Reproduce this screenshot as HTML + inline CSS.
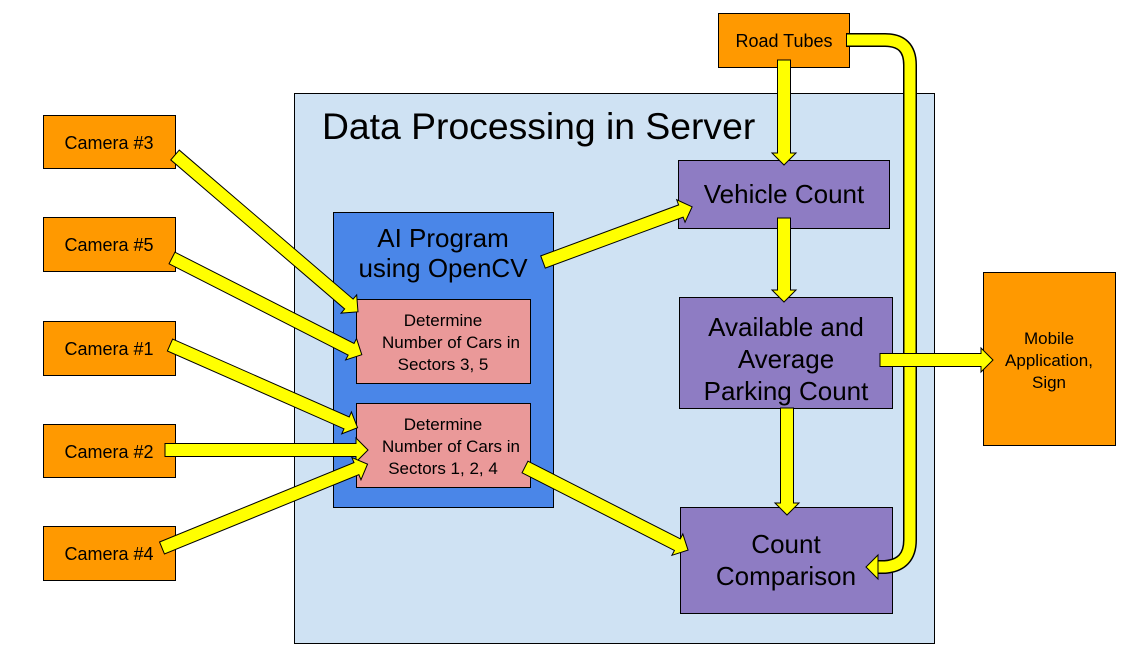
<!DOCTYPE html>
<html><head><style>body{margin:0;background:#fff}svg{display:block}text{font-family:"Liberation Sans",sans-serif;fill:#000}</style></head><body>
<svg width="1145" height="654" viewBox="0 0 1145 654" xmlns="http://www.w3.org/2000/svg">
<rect x="294.5" y="93.5" width="640" height="550" fill="#cfe2f3" stroke="#000"/>
<text x="322" y="139" font-size="37.3">Data Processing in Server</text>
<g fill="#ff9900" stroke="#000">
<rect x="43.5" y="115.5" width="132" height="53"/>
<rect x="43.5" y="217.5" width="132" height="54"/>
<rect x="43.5" y="321.5" width="132" height="54"/>
<rect x="43.5" y="424.5" width="132" height="53"/>
<rect x="43.5" y="526.5" width="132" height="54"/>
<rect x="718.5" y="13.5" width="131" height="54"/>
<rect x="983.5" y="272.5" width="132" height="173"/>
</g>
<g font-size="18" text-anchor="middle">
<text x="109" y="149">Camera #3</text>
<text x="109" y="251">Camera #5</text>
<text x="109" y="355">Camera #1</text>
<text x="109" y="458">Camera #2</text>
<text x="109" y="560">Camera #4</text>
<text x="784" y="47">Road Tubes</text>
</g>
<g font-size="17" text-anchor="middle">
<text x="1049" y="344">Mobile</text>
<text x="1049" y="366">Application,</text>
<text x="1049" y="388">Sign</text>
</g>
<rect x="333.5" y="212.5" width="220" height="295" fill="#4a86e8" stroke="#000"/>
<g font-size="26" text-anchor="middle"><text x="443" y="247">AI Program</text><text x="443" y="277">using OpenCV</text></g>
<g fill="#ea9999" stroke="#000"><rect x="356.5" y="299.5" width="174" height="84"/><rect x="356.5" y="403.5" width="174" height="84"/></g>
<g font-size="17" text-anchor="middle">
<text x="443" y="326">Determine</text><text x="451" y="348">Number of Cars in</text><text x="443" y="370">Sectors 3, 5</text>
<text x="443" y="430">Determine</text><text x="451" y="452">Number of Cars in</text><text x="443" y="474">Sectors 1, 2, 4</text>
</g>
<g fill="#8e7cc3" stroke="#000">
<rect x="678.5" y="160.5" width="211" height="68"/>
<rect x="679.5" y="297.5" width="213" height="111"/>
<rect x="680.5" y="507.5" width="212" height="106"/>
</g>
<g font-size="26" text-anchor="middle">
<text x="784" y="203">Vehicle Count</text>
<text x="786" y="336">Available and</text><text x="786" y="368">Average</text><text x="786" y="400">Parking Count</text>
<text x="786" y="553">Count</text><text x="786" y="585">Comparison</text>
</g>
<path d="M846,40 H885 Q910,40 910,65 V540 Q910,565 885,567 H878" fill="none" stroke="#000" stroke-width="14"/>
<path d="M847,40 H885 Q910,40 910,65 V540 Q910,565 885,567 H876" fill="none" stroke="#ff0" stroke-width="11"/>
<g transform="translate(866,567) rotate(180)"><polygon points="0,0 -12,-12 -12,12" fill="#ff0" stroke="#000"/></g>
<g fill="#ff0" stroke="#000" stroke-width="1">
<g transform="translate(175,155) rotate(40.6)"><polygon points="0,-6.5 229,-6.5 229,-12 241,0 229,12 229,6.5 0,6.5"/></g>
<g transform="translate(172,258) rotate(27)"><polygon points="0,-6.5 201,-6.5 201,-12 213,0 201,12 201,6.5 0,6.5"/></g>
<g transform="translate(170,345) rotate(23.8)"><polygon points="0,-6.5 193,-6.5 193,-12 205,0 193,12 193,6.5 0,6.5"/></g>
<g transform="translate(165,450)"><polygon points="0,-6.5 191,-6.5 191,-12 203,0 191,12 191,6.5 0,6.5"/></g>
<g transform="translate(162,548) rotate(-22.2)"><polygon points="0,-6.5 210,-6.5 210,-12 222,0 210,12 210,6.5 0,6.5"/></g>
<g transform="translate(543,262) rotate(-20.3)"><polygon points="0,-6.5 147,-6.5 147,-12 159,0 147,12 147,6.5 0,6.5"/></g>
<g transform="translate(525,467) rotate(27)"><polygon points="0,-6.5 171,-6.5 171,-12 183,0 171,12 171,6.5 0,6.5"/></g>
<g transform="translate(784,60) rotate(90)"><polygon points="0,-6.5 93,-6.5 93,-12 105,0 93,12 93,6.5 0,6.5"/></g>
<g transform="translate(784,218) rotate(90)"><polygon points="0,-6.5 72,-6.5 72,-12 84,0 72,12 72,6.5 0,6.5"/></g>
<g transform="translate(787,408) rotate(90)"><polygon points="0,-6.5 95,-6.5 95,-12 107,0 95,12 95,6.5 0,6.5"/></g>
<g transform="translate(880,360)"><polygon points="0,-6.5 101,-6.5 101,-12 113,0 101,12 101,6.5 0,6.5"/></g>
</g>
</svg>
</body></html>
